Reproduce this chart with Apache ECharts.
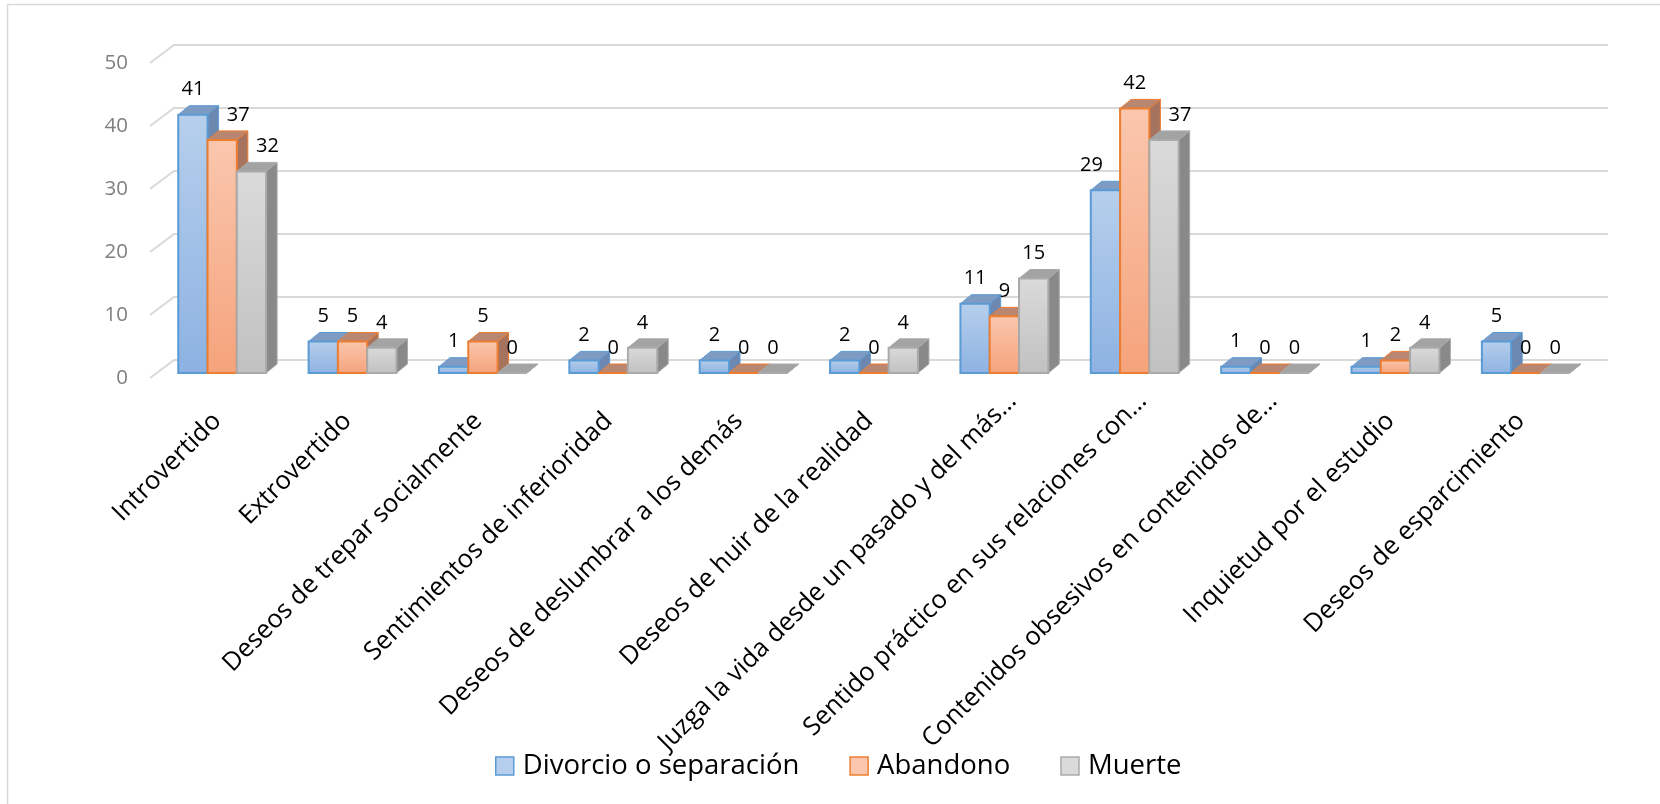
<!DOCTYPE html>
<html>
<head>
<meta charset="utf-8">
<script src="https://cdn.jsdelivr.net/npm/echarts@6/dist/echarts.min.js"></script>
<style>
html, body { margin: 0; padding: 0; background: #fff; }
#chart { width: 1660px; height: 804px; }
</style>
</head>
<body>
<div id="chart"></div>
<script>
// datos del gráfico
var categories = ['Introvertido', 'Extrovertido', 'Deseos de trepar socialmente', 'Sentimientos de inferioridad',
  'Deseos de deslumbrar a los demás', 'Deseos de huir de la realidad', 'Juzga la vida desde un pasado y del más…',
  'Sentido práctico en sus relaciones con…', 'Contenidos obsesivos en contenidos de…', 'Inquietud por el estudio',
  'Deseos de esparcimiento'];
var divorcio = [41, 5, 1, 2, 2, 2, 11, 29, 1, 1, 5];
var abandono = [37, 5, 5, 0, 0, 0, 9, 42, 0, 2, 0];
var muerte = [32, 4, 0, 4, 0, 4, 15, 37, 0, 4, 0];
var yTicks = [0, 10, 20, 30, 40, 50];
var seriesNames = ['Divorcio o separación', 'Abandono', 'Muerte'];

var allSeries = [divorcio, abandono, muerte];

// colores de las caras (frente, tapa, lado)
var palette = [
  { top: '#b6cfec', bottom: '#8db2e2', border: '#5b9bd5', cap: '#7e9bc3', side: '#6c88b0' },
  { top: '#fac7ae', bottom: '#f5a37b', border: '#ed7d31', cap: '#b98672', side: '#a6735f' },
  { top: '#dadada', bottom: '#c1c1c1', border: '#aaaaaa', cap: '#a3a3a3', side: '#898989' }
];
var DX = 11, DY = -9;        // profundidad de las barras
var WX = 24, WY = -18;       // profundidad de las paredes
var FONT = '"Open Sans", "DejaVu Sans", sans-serif';

var chart = echarts.init(document.getElementById('chart'));

function barRender(k) {
  return function (params, api) {
    var idx = api.value(0);
    var val = api.value(1);
    var band = api.size([1, 0])[0];
    var w = band * 0.2247;
    var base = api.coord([idx, 0]);
    var x0 = base[0] - 1.5 * w + k * w;
    var y0 = base[1];
    var yv = api.coord([idx, val])[1];
    var st = palette[k];
    var kids = [];

    kids.push({
      type: 'polygon',
      shape: { points: [[x0 + w, yv], [x0 + w + DX, yv + DY], [x0 + w + DX, y0 + DY], [x0 + w, y0]] },
      style: { fill: st.side, stroke: st.border, lineWidth: 1 }
    });
    kids.push({
      type: 'polygon',
      shape: { points: [[x0, yv], [x0 + w, yv], [x0 + w + DX, yv + DY], [x0 + DX, yv + DY]] },
      style: { fill: st.cap, stroke: st.border, lineWidth: 1 }
    });
    if (val > 0) {
      kids.push({
        type: 'rect',
        shape: { x: x0, y: yv, width: w, height: y0 - yv },
        style: {
          fill: new echarts.graphic.LinearGradient(0, 0, 0, 1, [
            { offset: 0, color: st.top }, { offset: 1, color: st.bottom }
          ]),
          stroke: st.border, lineWidth: 2
        }
      });
    } else {
      kids.push({
        type: 'line',
        shape: { x1: x0, y1: y0, x2: x0 + w, y2: y0 },
        style: { stroke: st.border, lineWidth: 2 }
      });
    }

    // en barras altas, apartar la etiqueta si la vecina la tapa
    var leftV = k > 0 ? allSeries[k - 1][idx] : -1;
    var rightV = k < 2 ? allSeries[k + 1][idx] : -1;
    var shift = 0;
    if (val >= 20 && leftV - val > 3) shift = 16;
    else if (val >= 20 && rightV - val > 3) shift = -14;

    kids.push({
      type: 'text',
      x: x0 + w / 2 + shift,
      y: yv - 25,
      z2: 100,
      style: {
        text: String(val), fill: '#000', font: '20px ' + FONT,
        align: 'center', verticalAlign: 'middle'
      }
    });
    return { type: 'group', children: kids };
  };
}

function wallRender(params, api) {
  var cs = params.coordSys;
  var y = api.coord([0, api.value(1)])[1];
  var left = cs.x, right = cs.x + cs.width;
  return {
    type: 'polyline',
    shape: { points: [[left, y], [left + WX, y + WY], [right + WX, y + WY]] },
    style: { stroke: '#d9d9d9', lineWidth: 2, fill: null }
  };
}

// etiquetas del eje X giradas 45°, como en Excel
function catLabelRender(params, api) {
  var idx = api.value(0);
  var p = api.coord([idx, 0]);
  var name = categories[idx];
  var cut = name.slice(-1) === '…';
  return {
    type: 'text',
    x: p[0] + (cut ? 8 : -5),
    y: p[1] + (cut ? 24 : 44),
    rotation: Math.PI / 4,
    style: {
      text: name, fill: '#000', font: '25.5px ' + FONT,
      align: 'right', verticalAlign: 'middle'
    }
  };
}

var series = [{
  type: 'custom',
  name: 'walls',
  xAxisIndex: 0,
  yAxisIndex: 0,
  silent: true,
  renderItem: wallRender,
  data: yTicks.map(function (v) { return [0, v]; }),
  z: 1
}, {
  type: 'custom',
  name: 'xlabels',
  xAxisIndex: 1,
  yAxisIndex: 1,
  silent: true,
  clip: false,
  renderItem: catLabelRender,
  data: categories.map(function (c, i) { return [i, 0]; }),
  z: 1
}];

seriesNames.forEach(function (name, k) {
  series.push({
    type: 'custom',
    name: name,
    xAxisIndex: 1,
    yAxisIndex: 1,
    renderItem: barRender(k),
    itemStyle: { color: palette[k].top, borderColor: palette[k].border },
    data: allSeries[k].map(function (v, i) { return [i, v]; }),
    z: 2
  });
});

var option = {
  animation: false,
  backgroundColor: '#fff',
  graphic: [{
    type: 'rect',
    shape: { x: 7.5, y: 4.5, width: 2000, height: 2000 },
    style: { fill: null, stroke: '#d9d9d9', lineWidth: 1.5 },
    silent: true
  }],
  grid: [
    { left: 150, top: 63, width: 1434, height: 315 },
    { left: 157, top: 58, width: 1434, height: 315 }
  ],
  xAxis: [
    { type: 'category', gridIndex: 0, data: categories, show: false },
    {
      type: 'category', gridIndex: 1, data: categories,
      axisLine: { show: false }, axisTick: { show: false }, axisLabel: { show: false }
    }
  ],
  yAxis: [
    {
      type: 'value', gridIndex: 0, min: 0, max: 50, interval: 10,
      axisLine: { show: false }, axisTick: { show: false }, splitLine: { show: false },
      axisLabel: { margin: 22, fontFamily: FONT, fontSize: 20.5, color: '#808080' }
    },
    {
      type: 'value', gridIndex: 1, min: 0, max: 50, interval: 10, show: false,
      splitLine: { show: false }
    }
  ],
  legend: {
    data: seriesNames.map(function (n, k) {
      return {
        name: n, icon: 'rect',
        itemStyle: { color: palette[k].top, borderColor: palette[k].border, borderWidth: 1.5 }
      };
    }),
    left: 495, top: 752, padding: 0,
    itemWidth: 18, itemHeight: 18, itemGap: 50,
    textStyle: { fontFamily: FONT, fontSize: 27.5, color: '#000', padding: [0, 0, 0, 4] }
  },
  series: series
};

chart.setOption(option);
</script>
</body>
</html>
